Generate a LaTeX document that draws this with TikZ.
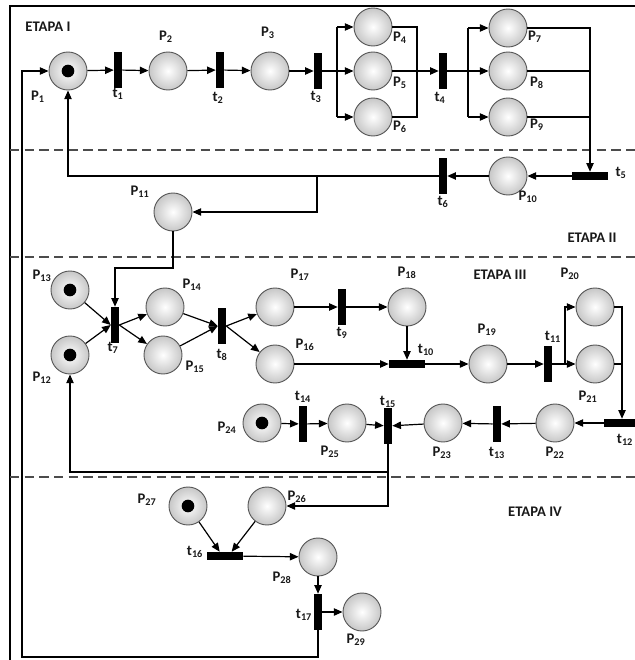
\documentclass[tikz,border=0pt]{standalone}
\usepackage{fontspec}
\setsansfont{Carlito}
\usetikzlibrary{arrows.meta}
\newcommand\Lb[2]{#1\textsubscript{#2}}
\begin{document}
\begin{tikzpicture}[x=0.75pt,y=-0.75pt,
 place/.style={circle,draw=black!65,line width=0.7pt,minimum size=28.5pt,inner sep=0pt,inner color=white,outer color=black!22},
 tok/.style={circle,fill=black,minimum size=9.5pt,inner sep=0pt},
 vtr/.style={rectangle,fill=black,minimum width=6pt,minimum height=27pt,inner sep=0pt},
 htr/.style={rectangle,fill=black,minimum width=27pt,minimum height=6pt,inner sep=0pt},
 arc/.style={line width=0.9pt,-{Triangle[length=6.5pt,width=5.5pt]}},
 ln/.style={line width=0.9pt},
 lbl/.style={font=\sffamily\bfseries\fontsize{11}{13}\selectfont,inner sep=0pt,text=black!90},
 stage/.style={font=\sffamily\bfseries\fontsize{11}{13}\selectfont,inner sep=0pt,text=black!90},
 sep/.style={line width=0.8pt,black!70,dash pattern=on 7pt off 4pt}]
\useasboundingbox (0,0) rectangle (635,660);
\draw[line width=0.8pt] (10,662) -- (10,6) -- (640,6);
\draw[sep] (10,150) -- (640,150);
\draw[sep] (10,257) -- (640,257);
\draw[sep] (10,477) -- (640,477);

% places and transitions
\node[place] (p1) at (68,71) {};
\node[vtr] (t1) at (118,70) {};
\node[place] (p2) at (168,71) {};
\node[vtr] (t2) at (220,70) {};
\node[place] (p3) at (270,71) {};
\node[vtr] (t3) at (318,71) {};
\node[place] (p4) at (373,27) {};
\node[place] (p5) at (373,71) {};
\node[place] (p6) at (373,117) {};
\node[vtr] (t4) at (443,71) {};
\node[place] (p7) at (508,28) {};
\node[place] (p8) at (508,71) {};
\node[place] (p9) at (508,117) {};
\node[htr] (t5) at (590,176) {};
\node[place] (p10) at (508,176) {};
\node[vtr] (t6) at (443,176) {};
\node[place] (p11) at (173,212) {};
\node[place] (p13) at (70,290) {};
\node[place] (p12) at (70,355) {};
\node[vtr] (t7) at (115,325) {};
\node[place] (p14) at (165,307) {};
\node[place] (p15) at (163,355) {};
\node[vtr] (t8) at (222,326) {};
\node[place] (p17) at (275,307) {};
\node[place] (p16) at (275,364) {};
\node[vtr] (t9) at (342,307) {};
\node[place] (p18) at (407,307) {};
\node[htr] (t10) at (407,364) {};
\node[place] (p19) at (488,364) {};
\node[vtr] (t11) at (548,364) {};
\node[place] (p20) at (595,307) {};
\node[place] (p21) at (595,364) {};
\node[htr] (t12) at (622,423) {};
\node[place] (p22) at (555,423) {};
\node[vtr] (t13) at (497,424) {};
\node[place] (p23) at (443,423) {};
\node[vtr] (t15) at (388,426) {};
\node[place] (p25) at (347,423) {};
\node[vtr] (t14) at (303,424) {};
\node[place] (p24) at (262,423) {};
\node[place] (p27) at (188,506) {};
\node[place] (p26) at (267,506) {};
\node[htr] (t16) at (225,556) {};
\node[place] (p28) at (318,557) {};
\node[vtr] (t17) at (318,612) {};
\node[place] (p29) at (362,612) {};

% tokens
\node[tok] (k1) at (p1) {};
\node[tok] (k13) at (p13) {};
\node[tok] (k12) at (p12) {};
\node[tok] (k24) at (p24) {};
\node[tok] (k27) at (p27) {};

% stage I
\draw[arc] (p1) -- (t1);
\draw[arc] (t1) -- (p2);
\draw[arc] (p2) -- (t2);
\draw[arc] (t2) -- (p3);
\draw[arc] (p3) -- (t3);
\coordinate (f3) at (337,71);
\coordinate (f3a) at (337,27);
\coordinate (f3b) at (337,117);
\draw[ln] (t3) -- (f3);
\draw[ln] (f3a) -- (f3b);
\draw[arc] (f3a) -- (p4);
\draw[arc] (f3) -- (p5);
\draw[arc] (f3b) -- (p6);
\coordinate (j4a) at (417,27);
\coordinate (j4b) at (417,117);
\draw[ln] (p4.east) -- (j4a) -- (j4b) -- (p6.east);
\draw[arc] (p5) -- (t4);
\coordinate (f4) at (468,71);
\coordinate (f4a) at (468,28);
\coordinate (f4b) at (468,117);
\draw[ln] (t4) -- (f4);
\draw[ln] (f4a) -- (f4b);
\draw[arc] (f4a) -- (p7);
\draw[arc] (f4) -- (p8);
\draw[arc] (f4b) -- (p9);
\draw[arc] (p7.east) -| (t5.north);
\draw[ln] (p8.east) -- (p8.east -| t5.north);
\draw[ln] (p9.east) -- (p9.east -| t5.north);
% stage II
\draw[arc] (t5) -- (p10);
\draw[arc] (p10) -- (t6);
\draw[arc] (t6.west) -| (p1.south);
\coordinate (b6) at (317,176);
\draw[arc] (b6) |- (p11.east);
\coordinate (c11) at (173,268);
\draw[arc] (p11.south) -- (c11) -| (t7.north);
% stage III
\draw[arc] (p13) -- (t7.west);
\draw[arc] (p12) -- (t7.west);
\draw[arc] (t7.east) -- (p14);
\draw[arc] (t7.east) -- (p15);
\draw[arc] (p14) -- (t8.west);
\draw[arc] (p15) -- (t8.west);
\draw[arc] (t8.east) -- (p17);
\draw[arc] (t8.east) -- (p16);
\draw[arc] (p17) -- (t9);
\draw[arc] (t9) -- (p18);
\draw[arc] (p18) -- (t10);
\draw[arc] (p16) -- (t10);
\draw[arc] (t10) -- (p19);
\draw[arc] (p19) -- (t11);
\coordinate (f11) at (565,364);
\draw[ln] (t11) -- (f11);
\draw[arc] (f11) |- (p20.west);
\draw[arc] (f11) -- (p21);
\draw[arc] (p20.east) -| (t12.north);
\draw[ln] (p21.east) -- (p21.east -| t12.north);
\draw[arc] (t12) -- (p22);
\draw[arc] (p22) -- (t13);
\draw[arc] (t13) -- (p23);
\draw[arc] (p23) -- (t15);
\draw[arc] (p24) -- (t14);
\draw[arc] (t14) -- (p25);
\draw[arc] (p25) -- (t15);
\coordinate (c15) at (388,472);
\draw[arc] (t15.south) |- (p26.east);
\draw[arc] (c15) -| (p12.south);
% stage IV
\draw[arc] (p27) -- ([xshift=-4pt]t16.north);
\draw[arc] (p26) -- ([xshift=5pt]t16.north);
\draw[arc] (t16) -- (p28);
\draw[arc] (p28) -- (t17);
\draw[arc] (t17) -- (p29);
\coordinate (r1) at (318,657);
\coordinate (r2) at (22,657);
\coordinate (r3) at (22,71);
\draw[arc] (t17.south) -- (r1) -- (r2) -- (r3) -- (p1.west);

% labels
\node[lbl] (lp1) at (38,97) {\Lb{P}{1}};
\node[lbl] (lt1) at (118,94) {\Lb{t}{1}};
\node[lbl] (lp2) at (166,37) {\Lb{P}{2}};
\node[lbl] (lt2) at (218,98) {\Lb{t}{2}};
\node[lbl] (lp3) at (268,33) {\Lb{P}{3}};
\node[lbl] (lt3) at (316,97) {\Lb{t}{3}};
\node[lbl] (lp4) at (400,38) {\Lb{P}{4}};
\node[lbl] (lp5) at (400,83) {\Lb{P}{5}};
\node[lbl] (lp6) at (400,127) {\Lb{P}{6}};
\node[lbl] (lt4) at (440,98) {\Lb{t}{4}};
\node[lbl] (lp7) at (535,37) {\Lb{P}{7}};
\node[lbl] (lp8) at (537,83) {\Lb{P}{8}};
\node[lbl] (lp9) at (537,125) {\Lb{P}{9}};
\node[lbl] (lt5) at (621,173) {\Lb{t}{5}};
\node[lbl] (lp10) at (528,197) {\Lb{P}{10}};
\node[lbl] (lt6) at (443,202) {\Lb{t}{6}};
\node[lbl] (lp11) at (140,192) {\Lb{P}{11}};
\node[lbl] (lp13) at (42,276) {\Lb{P}{13}};
\node[lbl] (lp12) at (42,378) {\Lb{P}{12}};
\node[lbl] (lt7) at (113,348) {\Lb{t}{7}};
\node[lbl] (lp14) at (192,285) {\Lb{P}{14}};
\node[lbl] (lp15) at (195,367) {\Lb{P}{15}};
\node[lbl] (lt8) at (222,355) {\Lb{t}{8}};
\node[lbl] (lp17) at (300,275) {\Lb{P}{17}};
\node[lbl] (lp16) at (305,345) {\Lb{P}{16}};
\node[lbl] (lt9) at (342,333) {\Lb{t}{9}};
\node[lbl] (lp18) at (407,273) {\Lb{P}{18}};
\node[lbl] (lt10) at (426,350) {\Lb{t}{10}};
\node[lbl] (lp19) at (487,330) {\Lb{P}{19}};
\node[lbl] (lt11) at (553,337) {\Lb{t}{11}};
\node[lbl] (lp20) at (570,274) {\Lb{P}{20}};
\node[lbl] (lp21) at (588,397) {\Lb{P}{21}};
\node[lbl] (lt12) at (625,440) {\Lb{t}{12}};
\node[lbl] (lp24) at (227,428) {\Lb{P}{24}};
\node[lbl] (lt14) at (303,397) {\Lb{t}{14}};
\node[lbl] (lt15) at (388,402) {\Lb{t}{15}};
\node[lbl] (lp25) at (330,452) {\Lb{P}{25}};
\node[lbl] (lp23) at (442,453) {\Lb{P}{23}};
\node[lbl] (lt13) at (497,453) {\Lb{t}{13}};
\node[lbl] (lp22) at (555,453) {\Lb{P}{22}};
\node[lbl] (lp27) at (147,500) {\Lb{P}{27}};
\node[lbl] (lp26) at (297,497) {\Lb{P}{26}};
\node[lbl] (lt16) at (195,552) {\Lb{t}{16}};
\node[lbl] (lp28) at (282,578) {\Lb{P}{28}};
\node[lbl] (lt17) at (304,615) {\Lb{t}{17}};
\node[lbl] (lp29) at (356,640) {\Lb{P}{29}};
\node[stage] (s1) at (48,27) {ETAPA I};
\node[stage] (s2) at (592,238) {ETAPA II};
\node[stage] (s3) at (500,275) {ETAPA III};
\node[stage] (s4) at (535,512) {ETAPA IV};
\end{tikzpicture}
\end{document}
